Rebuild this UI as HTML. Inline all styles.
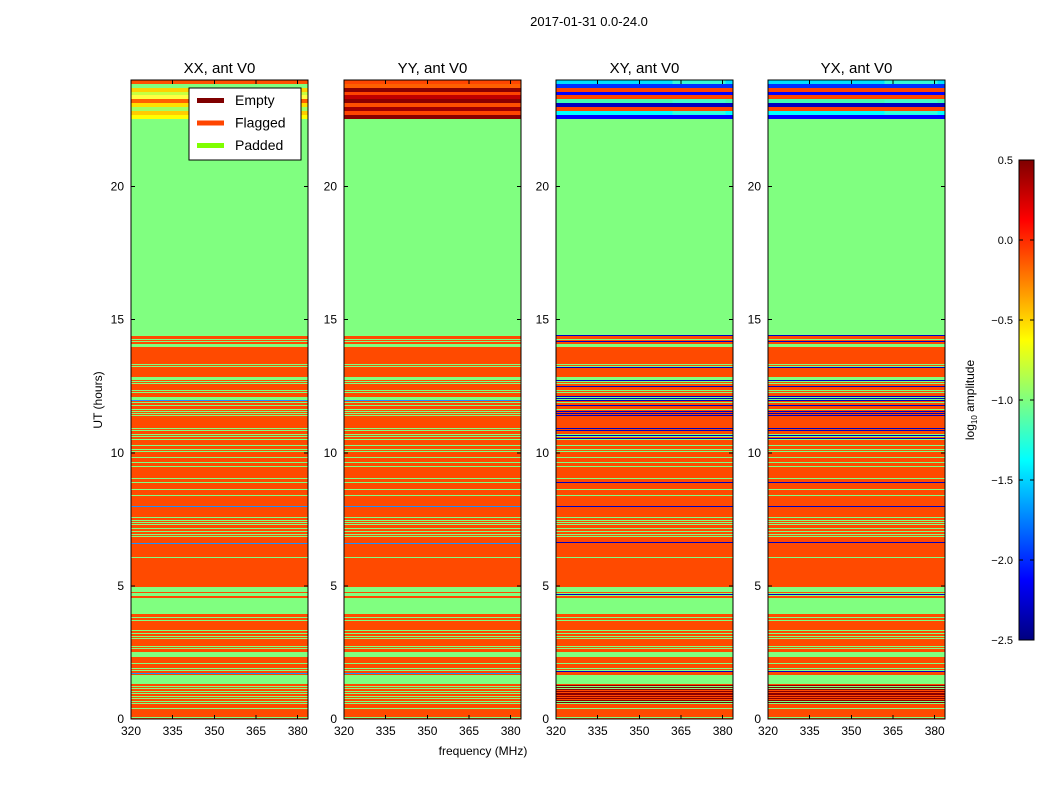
<!DOCTYPE html>
<html><head><meta charset="utf-8"><style>
body{margin:0;background:#fff;width:1050px;height:800px;overflow:hidden}
svg{font-family:"Liberation Sans","DejaVu Sans",sans-serif}
</style></head><body>
<svg id="fig" width="1050" height="800" viewBox="0 0 1050 800" xmlns="http://www.w3.org/2000/svg">
<defs><linearGradient id="jet" x1="0" y1="1" x2="0" y2="0">
<stop offset="0" stop-color="#00007f"/><stop offset="0.125" stop-color="#0000ff"/><stop offset="0.375" stop-color="#00ffff"/><stop offset="0.625" stop-color="#ffff00"/><stop offset="0.875" stop-color="#ff0000"/><stop offset="1" stop-color="#7f0000"/></linearGradient></defs>
<text x="589" y="26" font-size="13" text-anchor="middle">2017-01-31 0.0-24.0</text>
<text transform="translate(102,400) rotate(-90)" font-size="12" text-anchor="middle">UT (hours)</text>
<text x="483" y="755" font-size="12" text-anchor="middle">frequency (MHz)</text>
<g id="panels" shape-rendering="crispEdges"></g>
<g>
<rect x="1019" y="160" width="15" height="480" fill="url(#jet)" stroke="#000" stroke-width="1"/>
<g id="cbticks"></g>
<text transform="translate(974,400) rotate(-90)" font-size="12" text-anchor="middle">log<tspan font-size="8" dy="3">10</tspan><tspan dy="-3"> amplitude</tspan></text>
</g>
</svg>
<script>
const panelTitles=["XX, ant V0","YY, ant V0","XY, ant V0","YX, ant V0"];
const xTicks=[320,335,350,365,380];
const yTicks=[0,5,10,15,20];
const cbTicks=[0.5,0.0,-0.5,-1.0,-1.5,-2.0,-2.5];
const topHour=22.55;
const greenBlocks=[[14.38,22.55],[13.99,14.08],[12.74,12.83],[11.99,12.09],[4.77,4.96],[4.62,4.73],[3.94,4.55],[2.33,2.52],[1.54,1.65],[1.31,1.54]];
const greenLines=[14.27,14.20,13.33,13.26,12.69,12.62,12.36,12.28,11.91,11.79,11.64,11.57,11.49,11.42,10.93,10.85,10.70,10.63,10.52,10.29,10.14,10.07,9.84,9.65,9.50,9.05,8.90,8.64,8.41,7.59,7.47,7.40,7.32,7.17,7.06,6.95,6.87,6.08,3.83,3.72,3.34,3.23,3.12,3.04,2.74,2.67,2.10,1.92,1.84,1.24,1.16,1.05,0.98,0.86,0.79,0.68,0.60,0.41,0.08];
const cyanLinesXX=[11.98,8.00,6.61,1.73];
const blueLinesXY=[14.42,14.20,13.22,12.73,12.51,12.13,12.06,11.98,11.79,11.57,11.49,11.42,10.93,10.85,10.67,10.55,8.90,8.00,6.65,4.69,1.80];
const darkLinesXY=[0.62,0.70,0.78,0.86,0.94,1.02,1.10,1.18,1.26];
const topColorsXX=["#ffff00","#ffcc00","#a0ff60","#ffe000","#ff6000","#ffff40","#c8ff40","#ffd000","#80ff80","#ff5000"];
const topColorsYY=["#8b0000","#ff4500","#a00000","#ff5000","#8b0000","#c00000","#ff4500","#8b0000","#ff6000","#ff4500"];
const topColorsXY=["#0000ff","#00ffff","#ff4500","#0000c0","#40ffb0","#ff4500","#0000ff","#ff4500","#0030ff","#00e0ff"];
const F0=320,F1=383.7,H0=0,H1=24;
const panelX=[131,344,556,768],PW=177,PT=80,PB=719;
const NS="http://www.w3.org/2000/svg";
function mk(t,a,p){const e=document.createElementNS(NS,t);for(const k in a)e.setAttribute(k,a[k]);p.appendChild(e);return e;}
const root=document.getElementById('panels');
panelTitles.forEach((title,i)=>{
  const x0=panelX[i];
  const fx=f=>x0+(f-F0)/(F1-F0)*PW;
  const hy=h=>PB-(h-H0)/(H1-H0)*(PB-PT);
  const g=mk('g',{},root);
  
  
  const bg=mk('rect',{x:x0,y:PT,width:PW,height:PB-PT,fill:'#ff4a00'},g);
  
  
  const band=(h0,h1,c,nm)=>{const y1=Math.round(hy(h1)),y0=Math.round(hy(h0));
    const r=mk('rect',{x:x0,y:y1,width:PW,height:Math.max(y0-y1,1),fill:c},g);
    
    return r;};
  greenBlocks.forEach(b=>band(b[0],b[1],'#80ff80','padded-block'));
  greenLines.forEach(h=>band(h,h,'#80ff80','padded-line'));
  if(i<2){cyanLinesXX.forEach(h=>band(h,h,'#1e90ff','data-line'));}
  else{
    darkLinesXY.forEach(h=>band(h-0.02,h+0.02,'#8b0000','data-line-dark'));
    blueLinesXY.forEach(h=>band(h,h,'#0000c0','data-line'));
  }
  const tc=[topColorsXX,topColorsYY,topColorsXY,topColorsXY][i];
  const step=(H1-topHour)/tc.length;
  tc.forEach((c,k)=>band(topHour+k*step,topHour+(k+1)*step,c,'top-stripe'));
  if(i>=2){[1,4,9].forEach(k=>{const r=mk('rect',{x:fx(362),y:hy(topHour+(k+1)*step),width:fx(381)-fx(362),height:hy(topHour)-hy(topHour+step),fill:'#40ffd0',opacity:0.8},g);
    
    });}
  const fr=mk('rect',{x:x0,y:PT,width:PW,height:PB-PT,fill:'none',stroke:'#000','stroke-width':1},g);
  
  
  const t=mk('text',{x:x0+PW/2,y:73,'font-size':15,'text-anchor':'middle'},g);t.textContent=title;
  
  
  xTicks.forEach(v=>{const x=fx(v);mk('line',{x1:x,x2:x,y1:PB,y2:PB-4,stroke:'#000'},g);mk('line',{x1:x,x2:x,y1:PT,y2:PT+4,stroke:'#000'},g);
    const l=mk('text',{x:x,y:PB+16,'font-size':12,'text-anchor':'middle'},g);l.textContent=v;
    
    });
  yTicks.forEach(v=>{const y=hy(v);mk('line',{x1:x0,x2:x0+4,y1:y,y2:y,stroke:'#000'},g);mk('line',{x1:x0+PW,x2:x0+PW-4,y1:y,y2:y,stroke:'#000'},g);
    const l=mk('text',{x:x0-7,y:y+4,'font-size':12,'text-anchor':'end'},g);l.textContent=v;
    
    });
});
const lg=mk('g',{},root);


mk('rect',{x:189,y:88,width:112,height:72,fill:'#fff',stroke:'#000'},lg);
const legNames=["Empty","Flagged","Padded"],legCols=["#800000","#ff4500","#7fff00"];
legNames.forEach((n,k)=>{const y=100+k*22.5;
  mk('rect',{x:197,y:y-2,width:27,height:5,fill:legCols[k]},lg);
  const t=mk('text',{x:235,y:y+5,'font-size':14},lg);t.textContent=n;
  
  });
const cb=document.getElementById('cbticks');
cbTicks.forEach(v=>{const y=160+(0.5-v)*160;
  mk('line',{x1:1019,x2:1023,y1:y,y2:y,stroke:'#000'},cb);mk('line',{x1:1030,x2:1034,y1:y,y2:y,stroke:'#000'},cb);
  const t=mk('text',{x:1013,y:y+4,'font-size':11,'text-anchor':'end'},cb);t.textContent=(v<0?'\u2212':'')+Math.abs(v).toFixed(1);
  
  });
</script>
</body></html>
